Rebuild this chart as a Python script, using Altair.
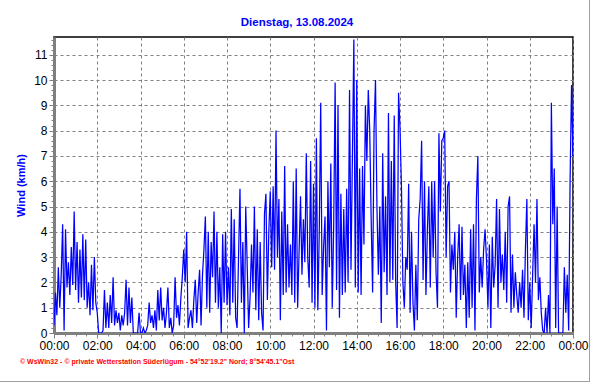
import altair as alt
import pandas as pd

TITLE = "Dienstag, 13.08.2024"
Y_TITLE = "Wind  (km/h)"
FOOTER = "\u00a9 WsWin32 - \u00a9 private Wetterstation S\u00fcderl\u00fcgum - 54\u00b052'19.2\" Nord; 8\u00b054'45.1\"Ost"

# wind values (km/h), one list per 2-hour window, samples every 4 minutes
SAMPLE_MIN = 4
w00 = [0.3, 1.6, 0.7, 2.6, 1.0, 2.3, 4.3, 0.1, 4.1, 1.8, 2.8, 1.5, 3.4, 1.9, 4.8,
       1.7, 3.6, 1.2, 3.3, 1.4, 3.9, 1.3, 3.7, 1.0, 2.0, 0.7, 2.7, 0.9, 3.0, 1.2]
w02 = [0.8, 0, 0, 0, 0.1, 1.7, 0.2, 1.2, 0.2, 1.5, 0.4, 2.2, 0.3, 0.9, 0.4,
       0.8, 0.1, 0.7, 0.3, 0.8, 2.1, 0.3, 1.8, 0.4, 1.4, 0, 0, 0, 0, 0.8]
w04 = [0, 0, 0.2, 0, 0.1, 0.3, 1.2, 0.4, 0.7, 0.2, 0.9, 0.1, 1.7, 0.5, 1.8,
       0.5, 1.0, 0.2, 0.8, 1.8, 0.2, 0.6, 0, 0.3, 2.2, 0.6, 1.1, 0.3, 1.4, 2.2]
w06 = [3.3, 2.0, 4.0, 0.2, 0.6, 0.9, 0.2, 1.3, 2.1, 0.4, 1.6, 2.5, 0.3, 2.3, 3.3,
       4.6, 1.0, 4.0, 0.8, 3.6, 2.2, 4.8, 1.2, 4.0, 1.0, 2.6, 0, 3.9, 1.2, 4.0]
w08 = [1.1, 2.6, 0.7, 4.9, 1.2, 4.5, 0.6, 0.2, 3.0, 5.7, 1.2, 3.6, 0, 5.0, 2.7,
       0.2, 1.4, 3.5, 1.6, 5.0, 0.9, 4.1, 0.5, 3.6, 0.8, 0.1, 4.7, 5.5, 1.3, 4.0]
w10 = [5.6, 2.6, 5.8, 2.5, 8.0, 3.0, 5.3, 0.5, 4.8, 1.5, 6.6, 1.6, 4.3, 1.8, 3.5,
       1.5, 6.0, 1.2, 6.5, 1.0, 3.2, 5.4, 2.3, 4.5, 2.8, 7.1, 3.0, 1.8, 6.8, 1.2]
w12 = [5.9, 1.0, 7.7, 0.9, 4.0, 9.1, 1.5, 3.4, 4.6, 0.1, 6.0, 2.6, 6.7, 1.0, 4.2,
       9.9, 1.7, 9.0, 0.6, 5.5, 1.5, 4.9, 1.6, 5.7, 2.0, 9.6, 2.5, 7.0, 11.6, 1.8]
w14 = [10.0, 1.6, 6.5, 1.5, 6.6, 3.5, 9.0, 6.8, 9.6, 8.0, 4.5, 1.6, 8.0, 10.0, 5.0,
       2.3, 5.0, 0.4, 7.1, 2.4, 5.4, 1.5, 8.7, 2.0, 6.8, 2.1, 8.6, 2.0, 0.2, 9.5]
w16 = [8.1, 5.8, 2.0, 1.0, 3.0, 2.5, 5.9, 0.8, 4.0, 1.2, 0.1, 2.7, 0.5, 4.5, 5.3,
       7.6, 2.1, 6.0, 1.5, 4.1, 5.8, 1.8, 6.0, 3.0, 6.0, 2.4, 1.0, 7.9, 4.8, 7.6]
w18 = [7.7, 8.0, 3.0, 5.8, 6.0, 1.6, 3.5, 2.5, 4.0, 0.6, 3.0, 4.3, 1.3, 4.2, 1.5,
       2.7, 0.2, 2.8, 0.6, 4.1, 1.0, 4.3, 0.1, 5.3, 7.0, 1.6, 3.0, 1.8, 3.3, 4.1]
w20 = [2.9, 1.0, 3.5, 0.2, 3.8, 1.8, 2.7, 5.3, 1.0, 4.9, 2.0, 3.1, 1.7, 4.0, 1.2,
       5.0, 5.4, 0.8, 3.1, 1.0, 2.4, 1.5, 0.8, 2.0, 1.0, 2.5, 0.6, 3.3, 5.3, 0.5]
w22 = [2.0, 0.2, 2.3, 4.3, 2.0, 5.3, 1.3, 2.2, 0.8, 0.1, 0, 1.0, 0, 1.5, 0,
       9.1, 4.3, 6.5, 0.2, 5.0, 0, 0, 0, 0, 2.6, 0.8, 2.3, 0.1, 6.1, 9.8]
end_value = 7.0

windows = [w00, w02, w04, w06, w08, w10, w12, w14, w16, w18, w20, w22]
rows = []
for k, w in enumerate(windows):
    for i, v in enumerate(w):
        rows.append({"minute": k * 120 + i * SAMPLE_MIN, "wind": v})
rows.append({"minute": 1440, "wind": end_value})
df = pd.DataFrame(rows)

x_tick_values = list(range(0, 1441, 30))
y_tick_values = [i / 5 for i in range(0, 59)]

x_label = ("datum.value % 120 === 0 ? "
           "((floor(datum.value/60) % 24) < 10 ? '0' : '') + (floor(datum.value/60) % 24) + ':00' : ''")
y_label = "abs(datum.value - round(datum.value)) < 0.001 ? format(round(datum.value), 'd') : ''"
x_major = "datum.value % 120 === 0"
y_major = "abs(datum.value - round(datum.value)) < 0.001"

line = alt.Chart(df).mark_line(color="#0000ff", strokeWidth=1.25, clip=True).encode(
    x=alt.X("minute:Q",
            scale=alt.Scale(domain=[0, 1440], nice=False, zero=False),
            axis=alt.Axis(values=x_tick_values, labelExpr=x_label, title=None,
                          labelOverlap=False, labelFlush=False,
                          gridOpacity={"condition": {"test": x_major, "value": 1}, "value": 0},
                          tickSize={"condition": {"test": x_major, "value": 5}, "value": 3},
                          labelPadding=2)),
    y=alt.Y("wind:Q",
            scale=alt.Scale(domain=[0, 11.7], nice=False, zero=True),
            axis=alt.Axis(values=y_tick_values, labelExpr=y_label, title=Y_TITLE,
                          labelOverlap=False, labelFlush=False,
                          gridOpacity={"condition": {"test": y_major, "value": 1}, "value": 0},
                          tickSize={"condition": {"test": y_major, "value": 5}, "value": 3},
                          labelPadding=2,
                          titleColor="#0000ff", titleFont="Liberation Sans",
                          titleFontSize=11, titleFontWeight="bold",
                          titleAngle=-90, titleX=-30, titleY=148,
                          titleAlign="center", titleBaseline="alphabetic")),
)

title = alt.Chart(pd.DataFrame({"t": [TITLE]})).mark_text(
    color="#0000ff", fontSize=11.5, fontWeight="bold", font="Liberation Sans",
    align="center", baseline="middle"
).encode(text="t:N", x=alt.value(243), y=alt.value(-14))

footer = alt.Chart(pd.DataFrame({"t": [FOOTER]})).mark_text(
    color="#ff0000", fontSize=7, fontWeight="bold", font="Liberation Sans",
    align="left", baseline="middle"
).encode(text="t:N", x=alt.value(-34), y=alt.value(325))

frame_right = alt.Chart(pd.DataFrame({"a": [0]})).mark_rule(color="#a0a0a0", strokeWidth=1).encode(
    x=alt.value(535.5), y=alt.value(-37), y2=alt.value(345))
frame_bottom = alt.Chart(pd.DataFrame({"a": [0]})).mark_rule(color="#a0a0a0", strokeWidth=1).encode(
    y=alt.value(344.5), x=alt.value(-54), x2=alt.value(536))

chart = alt.layer(line, title, footer, frame_right, frame_bottom).properties(
    width=519, height=296,
    padding={"left": 54, "top": 37, "right": 19, "bottom": 51},
    autosize=alt.AutoSizeParams(type="none"),
    background="white",
).configure_view(stroke="black", strokeWidth=1.5).configure_axis(
    labelFont="Liberation Sans", labelFontSize=12, labelColor="black",
    domainColor="#808080", domainWidth=3, tickColor="#808080",
    gridColor="#808080", gridDash=[3, 3], gridWidth=1,
)

chart.save("out.html", embed_options={"renderer": "svg", "actions": False})
